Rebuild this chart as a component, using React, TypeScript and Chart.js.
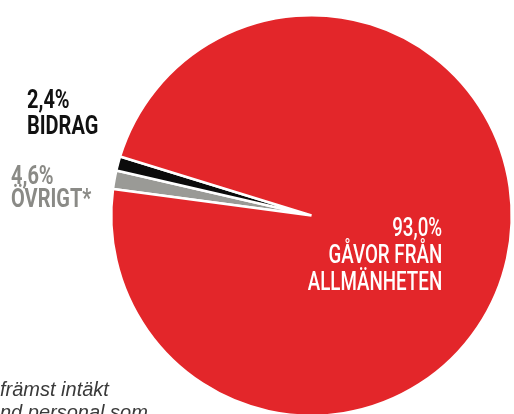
import React, { useEffect, useRef } from "react";
import { Chart, registerables } from "chart.js";

Chart.register(...registerables);

// Data as drawn in the picture (slice sizes as they appear), plus printed labels
const categories = ["Övrigt*", "Bidrag", "Gåvor från allmänheten"];
const shareLabels = ["4,6%", "2,4%", "93,0%"];
const sliceValues = [1.5, 1.15, 97.35];
const sliceColors = ["#9a9a96", "#0b0b0b", "#e3262a"];
const footnoteLines = ["främst intäkt", "nd personal som"];

const condensed = "Roboto, 'Noto Sans', sans-serif";

export default function App() {
  const canvasRef = useRef<HTMLCanvasElement | null>(null);

  useEffect(() => {
    document.body.style.margin = "0";
    const canvas = canvasRef.current;
    if (!canvas) return;
    const chart = new Chart(canvas, {
      type: "pie",
      data: {
        labels: categories,
        datasets: [
          {
            data: sliceValues,
            backgroundColor: sliceColors,
            borderColor: "#ffffff",
            borderWidth: 2.5,
          },
        ],
      },
      options: {
        responsive: false,
        animation: false,
        rotation: 277.6,
        layout: { padding: { left: 110, top: 14, right: 27, bottom: 23 } },
        plugins: {
          legend: { display: false },
          tooltip: { enabled: false },
        },
      },
    });
    return () => chart.destroy();
  }, []);

  const labelBase: React.CSSProperties = {
    position: "absolute",
    fontFamily: condensed,
    fontSize: 25,
    whiteSpace: "nowrap",
  };

  return (
    <div style={{ position: "absolute", left: 0, top: 0, width: 514, height: 414, overflow: "hidden", background: "#fff" }}>
      <canvas ref={canvasRef} width={540} height={440} style={{ position: "absolute", left: 0, top: 0 }} />
      <div style={{ ...labelBase, left: 27, top: 87, lineHeight: "26px", color: "#111", fontWeight: 700, transform: "scaleX(0.8)", transformOrigin: "left top" }}>
        <div>{shareLabels[1]}</div>
        <div>{categories[1].toUpperCase()}</div>
      </div>
      <div style={{ ...labelBase, left: 11, top: 164, lineHeight: "23px", color: "#8a8a86", fontWeight: 700, transform: "scaleX(0.8)", transformOrigin: "left top" }}>
        <div>{shareLabels[0]}</div>
        <div>{categories[0].toUpperCase()}</div>
      </div>
      <div style={{ ...labelBase, right: 514 - 442, top: 214, lineHeight: "27px", color: "#fff", fontWeight: 500, textAlign: "right", transform: "scaleX(0.75)", transformOrigin: "right top" }}>
        <div>{shareLabels[2]}</div>
        <div>GÅVOR FRÅN</div>
        <div>ALLMÄNHETEN</div>
      </div>
      <div style={{ position: "absolute", left: 0, top: 378, fontFamily: "'Liberation Sans', Arial, sans-serif", fontStyle: "italic", fontSize: 20, lineHeight: "23px", color: "#3a3a3a", whiteSpace: "nowrap" }}>
        {footnoteLines.map((l, i) => (
          <div key={i}>{l}</div>
        ))}
      </div>
    </div>
  );
}
